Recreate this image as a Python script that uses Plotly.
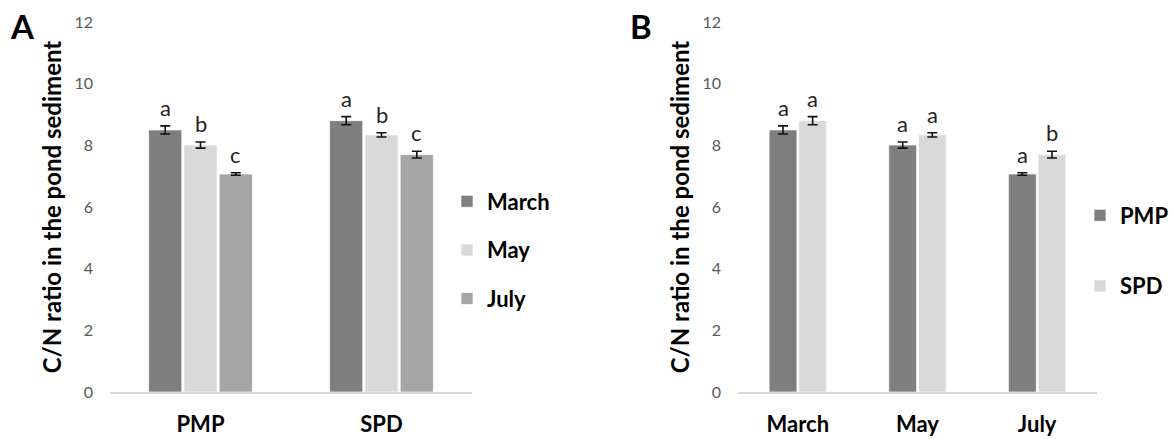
import plotly.graph_objects as go

# ---- data -------------------------------------------------------------
sites = ["PMP", "SPD"]
months = ["March", "May", "July"]

# C/N ratio per site, ordered by month (March, May, July)
pmp_cn = [8.50, 8.01, 7.07]
spd_cn = [8.80, 8.34, 7.70]
pmp_err = [0.13, 0.10, 0.04]
spd_err = [0.13, 0.07, 0.11]

# significance letters
letters_by_month = {          # panel A: months compared within each site
    "PMP": ["a", "b", "c"],
    "SPD": ["a", "b", "c"],
}
letters_by_site = {           # panel B: sites compared within each month
    "PMP": ["a", "a", "a"],
    "SPD": ["a", "a", "b"],
}

y_ticks = [0, 2, 4, 6, 8, 10, 12]

# ---- style ------------------------------------------------------------
FONT = "Lato, 'Open Sans', Arial, sans-serif"
DARK = "#7f7f7f"
LIGHT = "#d9d9d9"
MID = "#a5a5a5"
AXIS_GREY = "#d9d9d9"
TICK_GREY = "#595959"

W, H = 1173, 439
Y_DOMAIN = [47 / H, 417 / H]


def slot_layout(n_series, group_frac, inner_gap):
    """Return (bar width, offsets, centres) in category units for n bars per group."""
    slot = group_frac / n_series
    width = slot * (1 - inner_gap)
    starts = [-group_frac / 2 + k * slot + (slot - width) / 2 for k in range(n_series)]
    centres = [-group_frac / 2 + (k + 0.5) * slot for k in range(n_series)]
    return width, starts, centres


fig = go.Figure()
annotations = []

# ---- panel A: sites on the axis, one bar per month ----------------------
month_vals = {m: [pmp_cn[i], spd_cn[i]] for i, m in enumerate(months)}
month_errs = {m: [pmp_err[i], spd_err[i]] for i, m in enumerate(months)}
month_letters = {m: [letters_by_month["PMP"][i], letters_by_month["SPD"][i]]
                 for i, m in enumerate(months)}
month_colours = [DARK, LIGHT, MID]

wA, offA, cenA = slot_layout(3, 0.585, 0.06)
for k, m in enumerate(months):
    fig.add_trace(go.Bar(
        x=list(range(len(sites))), y=month_vals[m], name=m,
        width=wA, offset=offA[k],
        marker=dict(color=month_colours[k], line=dict(color="rgba(255,255,255,0.7)", width=1)),
        error_y=dict(type="data", array=month_errs[m], color="#111111", thickness=1.6, width=5),
        xaxis="x", yaxis="y", legend="legend", legendgroup=m,
    ))
    for i in range(len(sites)):
        annotations.append(dict(
            x=i + cenA[k], y=month_vals[m][i] + month_errs[m][i],
            xref="x", yref="y", text=month_letters[m][i], showarrow=False,
            yanchor="bottom", yshift=3,
            font=dict(family=FONT, size=22, color="#262626"),
        ))

# ---- panel B: months on the axis, one bar per site ----------------------
site_vals = {"PMP": pmp_cn, "SPD": spd_cn}
site_errs = {"PMP": pmp_err, "SPD": spd_err}
site_colours = [DARK, LIGHT]

wB, offB, cenB = slot_layout(2, 0.495, 0.06)
for k, s in enumerate(sites):
    fig.add_trace(go.Bar(
        x=list(range(len(months))), y=site_vals[s], name=s,
        width=wB, offset=offB[k],
        marker=dict(color=site_colours[k], line=dict(color="rgba(255,255,255,0.7)", width=1)),
        error_y=dict(type="data", array=site_errs[s], color="#111111", thickness=1.6, width=5),
        xaxis="x2", yaxis="y2", legend="legend2", legendgroup=s,
    ))
    for i in range(len(months)):
        annotations.append(dict(
            x=i + cenB[k], y=site_vals[s][i] + site_errs[s][i],
            xref="x2", yref="y2", text=letters_by_site[s][i], showarrow=False,
            yanchor="bottom", yshift=3,
            font=dict(family=FONT, size=22, color="#262626"),
        ))

# panel letters
for label, px in (("A", 8), ("B", 628)):
    annotations.append(dict(
        x=px / W, y=1 - 4 / H, xref="paper", yref="paper", xanchor="left", yanchor="top",
        text=f"<b>{label}</b>", showarrow=False,
        font=dict(family=FONT, size=33, color="#000000"),
    ))


def x_axis(domain, labels):
    return dict(
        domain=domain, range=[-0.5, len(labels) - 0.5],
        tickmode="array", tickvals=list(range(len(labels))),
        ticktext=[f"<b>{t}</b>" for t in labels],
        tickfont=dict(family=FONT, size=22, color="#000000"),
        showline=True, linecolor=AXIS_GREY, linewidth=2,
        ticks="", showgrid=False, zeroline=False, ticklabelstandoff=12,
        automargin=False, fixedrange=True,
    )


def y_axis(anchor):
    return dict(
        domain=Y_DOMAIN, range=[0, 12], anchor=anchor,
        tickmode="array", tickvals=y_ticks,
        tickfont=dict(family=FONT, size=16, color=TICK_GREY),
        showline=False, showgrid=False, zeroline=False, ticks="",
        ticklabelstandoff=16,
        title=dict(text="<b>C/N ratio in the pond sediment</b>", standoff=6,
                   font=dict(family=FONT, size=24, color="#000000")),
        automargin=False, fixedrange=True,
    )


legend_common = dict(
    font=dict(family=FONT, size=22, color="#000000"),
    bgcolor="rgba(0,0,0,0)", xanchor="left", yanchor="middle",
    traceorder="grouped", itemclick=False, itemdoubleclick=False,
)

fig.update_layout(
    width=W, height=H,
    margin=dict(l=0, r=0, t=0, b=0, autoexpand=False),
    paper_bgcolor="white", plot_bgcolor="white",
    barmode="overlay",
    showlegend=True,
    xaxis=x_axis([110 / W, 472 / W], sites),
    yaxis=y_axis("x"),
    xaxis2=x_axis([738 / W, 1097 / W], months),
    yaxis2=y_axis("x2"),
    legend=dict(x=447 / W, y=1 - 250 / H, tracegroupgap=17, **legend_common),
    legend2=dict(x=1080 / W, y=1 - 251 / H, tracegroupgap=39, **legend_common),
    annotations=annotations,
)

# bold legend labels
for tr in fig.data:
    tr.name = f"<b>{tr.name}</b>"

fig.write_html("out.html")
